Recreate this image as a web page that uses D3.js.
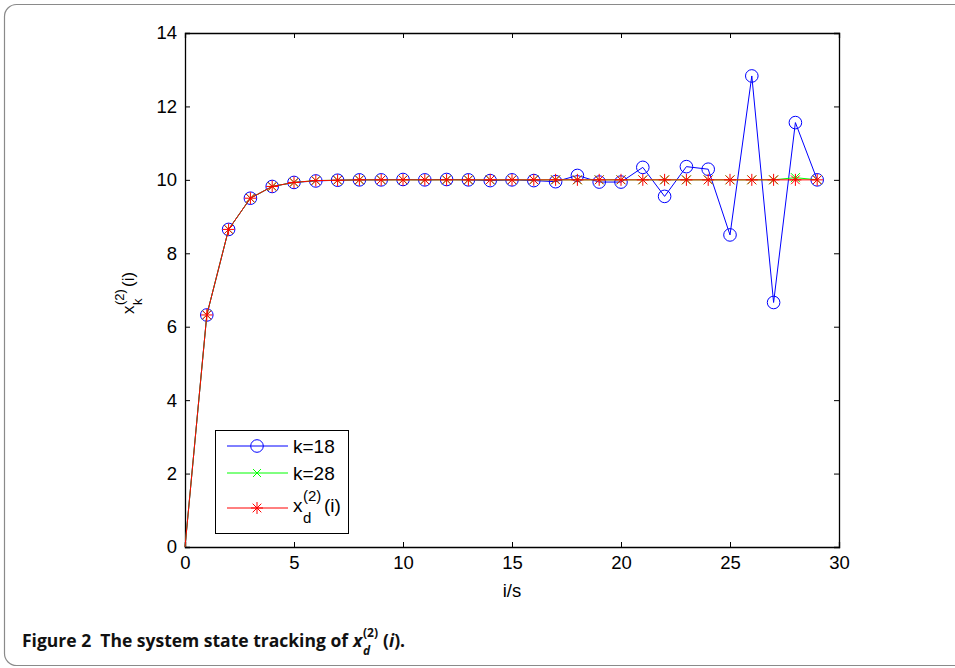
<!DOCTYPE html>
<html><head><meta charset="utf-8">
<script src="https://cdn.jsdelivr.net/npm/d3@7"></script>
<style>body{margin:0;background:#fff}svg{display:block}</style>
</head><body>
<svg id="c" width="955" height="668"></svg>
<script>
const iVals = d3.range(0, 30);
const k18 = [0, 6.32, 8.65, 9.50, 9.82, 9.93, 9.97, 9.99, 10.0, 10.0, 10.01, 10.0, 10.01, 10.0, 9.98, 10.0, 9.98, 9.95, 10.12, 9.94, 9.94, 10.34, 9.55, 10.36, 10.29, 8.50, 12.83, 6.66, 11.56, 10.0];
const k28 = [0, 6.32, 8.65, 9.50, 9.82, 9.93, 9.98, 9.99, 10.0, 10.0, 10.0, 10.0, 10.0, 10.0, 10.0, 10.0, 10.0, 10.0, 10.0, 10.0, 10.0, 10.0, 10.0, 10.0, 10.0, 10.0, 10.0, 10.0, 10.06, 10.0];
const xd = [0, 6.32, 8.65, 9.50, 9.82, 9.93, 9.98, 9.99, 10.0, 10.0, 10.0, 10.0, 10.0, 10.0, 10.0, 10.0, 10.0, 10.0, 10.0, 10.0, 10.0, 10.0, 10.0, 10.0, 10.0, 10.0, 10.0, 10.0, 10.0, 10.0];
const xTicks = [0, 5, 10, 15, 20, 25, 30];
const yTicks = [0, 2, 4, 6, 8, 10, 12, 14];

const svg = d3.select("#c");
const L = 185, R = 839, T = 33, B = 547;
const x = d3.scaleLinear().domain([0, 30]).range([L, R]);
const y = d3.scaleLinear().domain([0, 14]).range([B, T]);

// frame
svg.append("rect").attr("x", 4.5).attr("y", 4.5).attr("width", 1000).attr("height", 661)
  .attr("rx", 12).attr("fill", "none").attr("stroke", "#8a8a8a").attr("stroke-width", 1.2);

const font = "'Liberation Sans', Arial, sans-serif";
const FS = 18.5;

// axes
const axB = svg.append("g").attr("transform", `translate(0,${B})`)
  .call(d3.axisBottom(x).tickValues(xTicks).tickSize(-5).tickPadding(9));
const axT = svg.append("g").attr("transform", `translate(0,${T})`)
  .call(d3.axisTop(x).tickValues(xTicks).tickSize(-5).tickFormat(""));
const axL = svg.append("g").attr("transform", `translate(${L},0)`)
  .call(d3.axisLeft(y).tickValues(yTicks).tickSize(-5).tickPadding(8));
const axR = svg.append("g").attr("transform", `translate(${R},0)`)
  .call(d3.axisRight(y).tickValues(yTicks).tickSize(-5).tickFormat(""));
[axB, axT, axL, axR].forEach(a => {
  a.select(".domain").attr("stroke", "#000").attr("stroke-width", 1.3);
  a.selectAll(".tick line").attr("stroke", "#000");
  a.selectAll("text").attr("font-family", font).attr("font-size", FS).attr("fill", "#000");
});

// axis labels
svg.append("text").attr("x", (L + R) / 2).attr("y", 597).attr("text-anchor", "middle")
  .attr("font-family", font).attr("font-size", FS).text("i/s");

// y label (rotated, with sub/superscripts)
const ylg = svg.append("g").attr("transform", `translate(134,314) rotate(-90)`)
  .attr("font-family", font);
ylg.append("text").attr("x", 0).attr("y", 0).attr("font-size", 17).text("x");
ylg.append("text").attr("x", 9).attr("y", 8).attr("font-size", 13).text("k");
ylg.append("text").attr("x", 9).attr("y", -10).attr("font-size", 13).text("(2)");
ylg.append("text").attr("x", 27).attr("y", 0).attr("font-size", 17).text("(i)");

const line = d3.line().x((d, i) => x(iVals[i])).y(d => y(d));
const blue = "#0000ff", green = "#00ff00", red = "#ff0000";

function circle(g, cx, cy) {
  g.append("circle").attr("cx", cx).attr("cy", cy).attr("r", 6.3).attr("fill", "none").attr("stroke", blue).attr("stroke-width", 1);
}
function cross(g, cx, cy, s, col) {
  g.append("path").attr("d", `M${cx - s},${cy - s}L${cx + s},${cy + s}M${cx - s},${cy + s}L${cx + s},${cy - s}`)
    .attr("stroke", col).attr("stroke-width", 1).attr("fill", "none");
}
function star(g, cx, cy, s) {
  const d = s * 0.72;
  g.append("path").attr("d", `M${cx - s},${cy}L${cx + s},${cy}M${cx},${cy - s}L${cx},${cy + s}M${cx - d},${cy - d}L${cx + d},${cy + d}M${cx - d},${cy + d}L${cx + d},${cy - d}`)
    .attr("stroke", red).attr("stroke-width", 1).attr("fill", "none");
}

// markers are not visible at the origin in the reference
const gB = svg.append("g");
gB.append("path").datum(k18).attr("d", line).attr("fill", "none").attr("stroke", blue).attr("stroke-width", 1);
k18.forEach((v, i) => { if (i > 0) circle(gB, x(iVals[i]), y(v)); });
const gG = svg.append("g");
gG.append("path").datum(k28).attr("d", line).attr("fill", "none").attr("stroke", green).attr("stroke-width", 1);
k28.forEach((v, i) => { if (i > 0) cross(gG, x(iVals[i]), y(v), 4.5, green); });
const gR = svg.append("g");
gR.append("path").datum(xd).attr("d", line).attr("fill", "none").attr("stroke", red).attr("stroke-width", 1);
xd.forEach((v, i) => { if (i > 0) star(gR, x(iVals[i]), y(v), 6); });

// legend
const lg = svg.append("g").attr("font-family", font);
lg.append("rect").attr("x", 215.5).attr("y", 430.5).attr("width", 133).attr("height", 103)
  .attr("fill", "#fff").attr("stroke", "#000").attr("stroke-width", 1);
const ly = [446, 473, 508];
const lx1 = 227, lx2 = 288, lm = 257;
lg.append("line").attr("x1", lx1).attr("x2", lx2).attr("y1", ly[0]).attr("y2", ly[0]).attr("stroke", blue);
circle(lg, lm, ly[0]);
lg.append("line").attr("x1", lx1).attr("x2", lx2).attr("y1", ly[1]).attr("y2", ly[1]).attr("stroke", green);
cross(lg, lm, ly[1], 4, green);
lg.append("line").attr("x1", lx1).attr("x2", lx2).attr("y1", ly[2]).attr("y2", ly[2]).attr("stroke", red);
star(lg, lm, ly[2], 6);
const LFS = 19;
lg.append("text").attr("x", 293).attr("y", ly[0] + 7).attr("font-size", LFS).text("k=18");
lg.append("text").attr("x", 293).attr("y", ly[1] + 7).attr("font-size", LFS).text("k=28");
lg.append("text").attr("x", 293).attr("y", ly[2] + 4).attr("font-size", LFS).text("x");
lg.append("text").attr("x", 303).attr("y", ly[2] + 15).attr("font-size", 15).text("d");
lg.append("text").attr("x", 303).attr("y", ly[2] - 7).attr("font-size", 15).text("(2)");
lg.append("text").attr("x", 324).attr("y", ly[2] + 4).attr("font-size", LFS).text("(i)");

// caption
const capFont = "'Open Sans', 'Noto Sans', sans-serif";
const capY = 647;
const cap1 = svg.append("text").attr("x", 22).attr("y", capY).attr("font-family", capFont)
  .attr("font-size", 17.5).attr("font-weight", "bold").attr("fill", "#111")
  .text("Figure 2\u00a0\u00a0The system state tracking of");
const w1 = cap1.node().getComputedTextLength();
const cx0 = 22 + w1 + 5;
svg.append("text").attr("x", cx0).attr("y", capY).attr("font-family", capFont)
  .attr("font-size", 17.5).attr("font-weight", "bold").attr("font-style", "italic").attr("fill", "#111").text("x");
svg.append("text").attr("x", cx0 + 10).attr("y", capY + 8).attr("font-family", capFont)
  .attr("font-size", 12).attr("font-weight", "bold").attr("font-style", "italic").attr("fill", "#111").text("d");
svg.append("text").attr("x", cx0 + 10).attr("y", capY - 10).attr("font-family", capFont)
  .attr("font-size", 12).attr("font-weight", "bold").attr("fill", "#111").text("(2)");
const cap2 = svg.append("text").attr("x", cx0 + 30).attr("y", capY).attr("font-family", capFont)
  .attr("font-size", 17.5).attr("font-weight", "bold").attr("fill", "#111");
cap2.append("tspan").text("(");
cap2.append("tspan").attr("font-style", "italic").text("i");
cap2.append("tspan").text(").");
</script>
</body></html>
